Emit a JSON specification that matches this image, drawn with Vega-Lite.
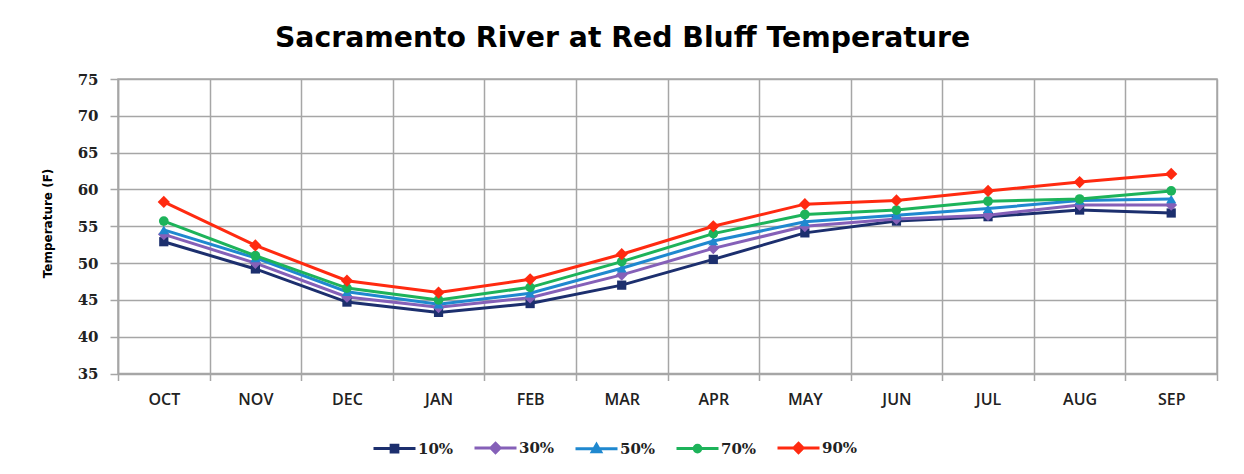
{
  "$schema": "https://vega.github.io/schema/vega-lite/v6.json",
  "autosize": "none",
  "width": 1099,
  "height": 294.5,
  "padding": {"left": 118, "top": 79, "right": 27, "bottom": 100.5},
  "background": "white",
  "config": {
    "view": {"stroke": "#a6a6a6", "strokeWidth": 1.5},
    "font": "DejaVu Sans"
  },
  "title": {
    "text": "Sacramento River at Red Bluff Temperature",
    "font": "DejaVu Sans",
    "fontSize": 28.3,
    "fontWeight": "bold",
    "color": "#000000",
    "anchor": "middle",
    "frame": "group",
    "dx": -45,
    "baseline": "alphabetic",
    "offset": -3
  },
  "data": {
    "values": [
      {"month": "OCT", "series": "10%", "temp": 52.9},
      {"month": "NOV", "series": "10%", "temp": 49.2},
      {"month": "DEC", "series": "10%", "temp": 44.7},
      {"month": "JAN", "series": "10%", "temp": 43.3},
      {"month": "FEB", "series": "10%", "temp": 44.5},
      {"month": "MAR", "series": "10%", "temp": 47.0},
      {"month": "APR", "series": "10%", "temp": 50.5},
      {"month": "MAY", "series": "10%", "temp": 54.1},
      {"month": "JUN", "series": "10%", "temp": 55.7},
      {"month": "JUL", "series": "10%", "temp": 56.3},
      {"month": "AUG", "series": "10%", "temp": 57.2},
      {"month": "SEP", "series": "10%", "temp": 56.8},
      {"month": "OCT", "series": "30%", "temp": 53.9},
      {"month": "NOV", "series": "30%", "temp": 50.0},
      {"month": "DEC", "series": "30%", "temp": 45.4},
      {"month": "JAN", "series": "30%", "temp": 44.0},
      {"month": "FEB", "series": "30%", "temp": 45.3},
      {"month": "MAR", "series": "30%", "temp": 48.4},
      {"month": "APR", "series": "30%", "temp": 52.0},
      {"month": "MAY", "series": "30%", "temp": 55.0},
      {"month": "JUN", "series": "30%", "temp": 56.0},
      {"month": "JUL", "series": "30%", "temp": 56.5},
      {"month": "AUG", "series": "30%", "temp": 57.9},
      {"month": "SEP", "series": "30%", "temp": 57.9},
      {"month": "OCT", "series": "50%", "temp": 54.5},
      {"month": "NOV", "series": "50%", "temp": 50.7},
      {"month": "DEC", "series": "50%", "temp": 46.1},
      {"month": "JAN", "series": "50%", "temp": 44.4},
      {"month": "FEB", "series": "50%", "temp": 45.9},
      {"month": "MAR", "series": "50%", "temp": 49.3},
      {"month": "APR", "series": "50%", "temp": 53.0},
      {"month": "MAY", "series": "50%", "temp": 55.6},
      {"month": "JUN", "series": "50%", "temp": 56.5},
      {"month": "JUL", "series": "50%", "temp": 57.4},
      {"month": "AUG", "series": "50%", "temp": 58.5},
      {"month": "SEP", "series": "50%", "temp": 58.7},
      {"month": "OCT", "series": "70%", "temp": 55.7},
      {"month": "NOV", "series": "70%", "temp": 51.0},
      {"month": "DEC", "series": "70%", "temp": 46.6},
      {"month": "JAN", "series": "70%", "temp": 45.0},
      {"month": "FEB", "series": "70%", "temp": 46.7},
      {"month": "MAR", "series": "70%", "temp": 50.2},
      {"month": "APR", "series": "70%", "temp": 54.0},
      {"month": "MAY", "series": "70%", "temp": 56.6},
      {"month": "JUN", "series": "70%", "temp": 57.2},
      {"month": "JUL", "series": "70%", "temp": 58.4},
      {"month": "AUG", "series": "70%", "temp": 58.7},
      {"month": "SEP", "series": "70%", "temp": 59.8},
      {"month": "OCT", "series": "90%", "temp": 58.3},
      {"month": "NOV", "series": "90%", "temp": 52.4},
      {"month": "DEC", "series": "90%", "temp": 47.6},
      {"month": "JAN", "series": "90%", "temp": 46.0},
      {"month": "FEB", "series": "90%", "temp": 47.8},
      {"month": "MAR", "series": "90%", "temp": 51.2},
      {"month": "APR", "series": "90%", "temp": 55.0},
      {"month": "MAY", "series": "90%", "temp": 58.0},
      {"month": "JUN", "series": "90%", "temp": 58.5},
      {"month": "JUL", "series": "90%", "temp": 59.8},
      {"month": "AUG", "series": "90%", "temp": 61.0},
      {"month": "SEP", "series": "90%", "temp": 62.1}
    ]
  },
  "encoding": {
    "x": {
      "field": "month",
      "type": "nominal",
      "sort": ["OCT", "NOV", "DEC", "JAN", "FEB", "MAR", "APR", "MAY", "JUN", "JUL", "AUG", "SEP"],
      "scale": {"type": "band", "paddingInner": 0, "paddingOuter": 0},
      "axis": {
        "title": null,
        "labelAngle": 0,
        "tickBand": "extent",
        "grid": true,
        "gridColor": "#a6a6a6",
        "gridWidth": 1.5,
        "domain": false,
        "ticks": true,
        "tickColor": "#a6a6a6",
        "tickWidth": 1.5,
        "tickSize": 7,
        "labelPadding": 11,
        "labelFont": "Open Sans",
        "labelFontSize": 16,
        "labelFontWeight": 600,
        "labelColor": "#222222"
      }
    },
    "y": {
      "field": "temp",
      "type": "quantitative",
      "scale": {"domain": [35, 75], "nice": false, "zero": false},
      "axis": {
        "title": "Temperature (F)",
        "values": [35, 40, 45, 50, 55, 60, 65, 70, 75],
        "grid": true,
        "gridColor": "#a6a6a6",
        "gridWidth": 1.5,
        "domain": true,
        "domainColor": "#a6a6a6",
        "domainWidth": 1.5,
        "ticks": true,
        "tickColor": "#a6a6a6",
        "tickWidth": 1.5,
        "tickSize": 8,
        "labelPadding": 12,
        "labelFont": "DejaVu Serif",
        "labelFontSize": 15,
        "labelFontWeight": "bold",
        "labelColor": "#222222",
        "titleFont": "DejaVu Sans",
        "titleFontSize": 12,
        "titleFontWeight": "bold",
        "titleColor": "#000000",
        "titleAngle": -90,
        "titleX": -71,
        "titleY": 144,
        "titleAlign": "center",
        "titleBaseline": "middle"
      }
    },
    "color": {
      "field": "series",
      "type": "nominal",
      "scale": {
        "domain": ["10%", "30%", "50%", "70%", "90%"],
        "range": ["#1c2f6e", "#8560b8", "#1f88cf", "#1db35a", "#ff2a10"]
      },
      "legend": {
        "title": null,
        "orient": "none",
        "direction": "horizontal",
        "legendX": 254,
        "legendY": 346,
        "padding": 0,
        "symbolSize": 1764,
        "symbolStrokeWidth": 3,
        "labelFont": "DejaVu Serif",
        "labelFontSize": 15,
        "labelFontWeight": "bold",
        "labelColor": "#222222",
        "labelOffset": 1,
        "columnPadding": 14,
        "encode": {
          "symbols": {
            "update": {
              "shape": {"signal": "datum.value === '10%' ? 'M-1,0H1M-0.16,-0.16H0.16V0.16H-0.16Z' : datum.value === '30%' ? 'M-1,0H1M0,-0.22L0.22,0L0,0.22L-0.22,0Z' : datum.value === '50%' ? 'M-1,0H1M0,-0.2L0.2,0.15H-0.2Z' : datum.value === '70%' ? 'M-1,0H1M-0.16,0A0.16,0.16,0,1,0,0.16,0A0.16,0.16,0,1,0,-0.16,0Z' : 'M-1,0H1M0,-0.22L0.22,0L0,0.22L-0.22,0Z'"},
              "size": {"value": 1764},
              "fill": {"signal": "scale('color', datum.value)"},
              "stroke": {"signal": "scale('color', datum.value)"},
              "strokeWidth": {"value": 3},
              "opacity": {"value": 1}
            }
          }
        }
      }
    }
  },
  "layer": [
    {
      "mark": {"type": "line", "strokeWidth": 3}
    },
    {
      "transform": [{"filter": {"field": "series", "equal": "10%"}}],
      "mark": {"type": "point", "filled": true, "opacity": 1, "shape": "square", "size": 85}
    },
    {
      "transform": [{"filter": {"field": "series", "equal": "30%"}}],
      "mark": {"type": "point", "filled": true, "opacity": 1, "shape": "diamond", "size": 140}
    },
    {
      "transform": [{"filter": {"field": "series", "equal": "50%"}}],
      "mark": {"type": "point", "filled": true, "opacity": 1, "shape": "triangle-up", "size": 100}
    },
    {
      "transform": [{"filter": {"field": "series", "equal": "70%"}}],
      "mark": {"type": "point", "filled": true, "opacity": 1, "shape": "circle", "size": 95}
    },
    {
      "transform": [{"filter": {"field": "series", "equal": "90%"}}],
      "mark": {"type": "point", "filled": true, "opacity": 1, "shape": "diamond", "size": 150}
    }
  ]
}
